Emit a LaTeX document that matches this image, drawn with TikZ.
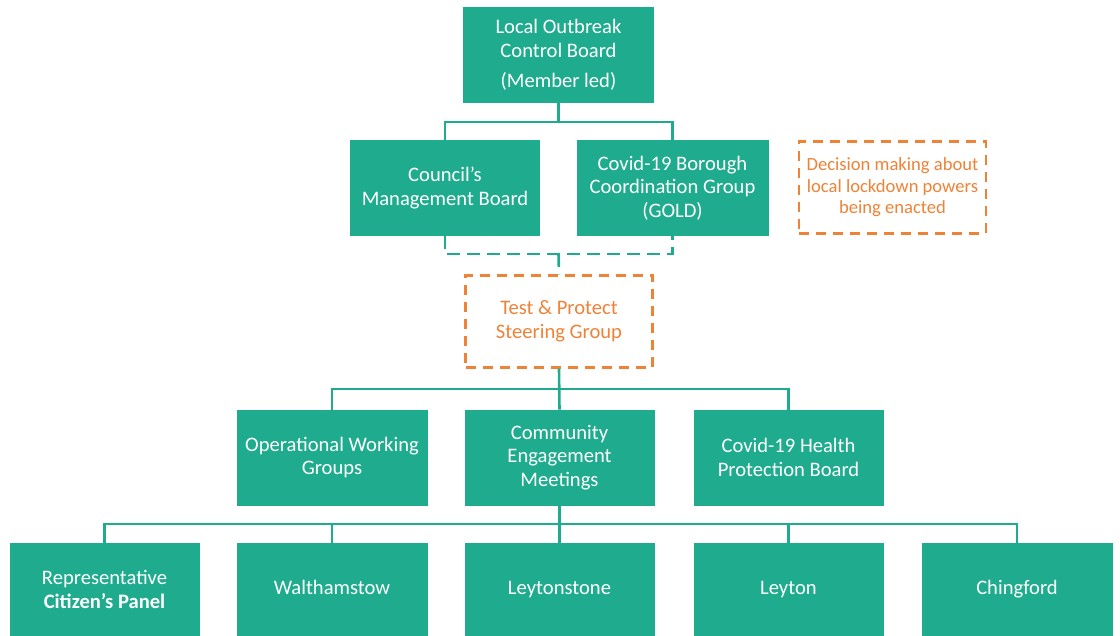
\documentclass[tikz,border=0pt]{standalone}
\usepackage{fontspec}
\setmainfont{Carlito}
\definecolor{teal1}{HTML}{1FAC8E}
\definecolor{orng}{HTML}{EE8237}
\begin{document}
\begin{tikzpicture}[x=1pt,y=-1pt,
  box/.style={fill=teal1, draw=teal1, line width=0.6pt, text=white, align=center,
    minimum height=95pt, inner sep=0pt, font=\fontsize{20.6}{23.6}\selectfont},
  onebox/.style={box, minimum height=93pt, text height=14pt, text depth=4.5pt},
  dbox/.style={draw=orng, dash pattern=on 10pt off 7pt, line width=2.4pt, text=orng,
    align=center, minimum width=187pt, minimum height=92pt, inner sep=0pt},
  conn/.style={draw=teal1, line width=2.6pt},
  dconn/.style={draw=teal1, line width=2.6pt, dash pattern=on 13pt off 7pt}]
\useasboundingbox (0,0) rectangle (1120,636);

% row 1
\node[box, minimum width=190pt] (top) at (558.5,55) {Local Outbreak\\Control Board\\[7pt](Member led)};
% row 2
\node[box, minimum width=189pt] (cmb) at (445,188) {Council’s\\Management Board};
\node[box, minimum width=191pt] (gold) at (672.5,188) {Covid-19 Borough\\Coordination Group\\(GOLD)};
\node[dbox, font=\fontsize{18.6}{21.5}\selectfont] (dec) at (892.5,187.5) {Decision making about\\local lockdown powers\\being enacted};
% row 3
\node[dbox, font=\fontsize{20.6}{24}\selectfont] (tp) at (559,321.5) {Test \& Protect\\Steering Group};
% row 4
\node[box, minimum width=190pt] (ow) at (332,457.5) {Operational Working\\Groups};
\node[box, minimum width=189pt] (ce) at (559.5,457.5) {Community\\Engagement\\Meetings};
\node[box, minimum width=189pt] (hp) at (788.5,457.5) {Covid-19 Health\\Protection Board};
% row 5
\node[box, minimum width=189pt, minimum height=93pt] (rep) at (104.5,589.5) {Representative\\\textbf{Citizen’s Panel}};
\node[onebox, minimum width=190pt] (wal) at (332,589.5) {Walthamstow};
\node[onebox, minimum width=189pt] (ley) at (559.5,589.5) {Leytonstone};
\node[onebox, minimum width=189pt] (lyt) at (788.5,589.5) {Leyton};
\node[onebox, minimum width=190pt] (chi) at (1017,589.5) {Chingford};

% junctions
\coordinate (j1) at (558.5,122);
\coordinate (j2) at (558.5,254);
\coordinate (j3) at (559,389);
\coordinate (j4) at (559.5,524);

% connectors
\draw[conn] (top.south) -- (j1);
\draw[conn] (cmb.north) |- (j1) -| (gold.north);
\draw[dconn] (cmb.south) |- (j2) -| (gold.south);
\draw[dconn] (j2) -- (tp.north);
\draw[conn] (tp.south) -- (ce.north);
\draw[conn] (ow.north) |- (j3) -| (hp.north);
\draw[conn] (ce.south) -- (ley.north);
\draw[conn] (rep.north) |- (j4) -| (chi.north);
\draw[conn] (wal.north) -- (wal.north |- j4);
\draw[conn] (lyt.north) -- (lyt.north |- j4);
\end{tikzpicture}
\end{document}
